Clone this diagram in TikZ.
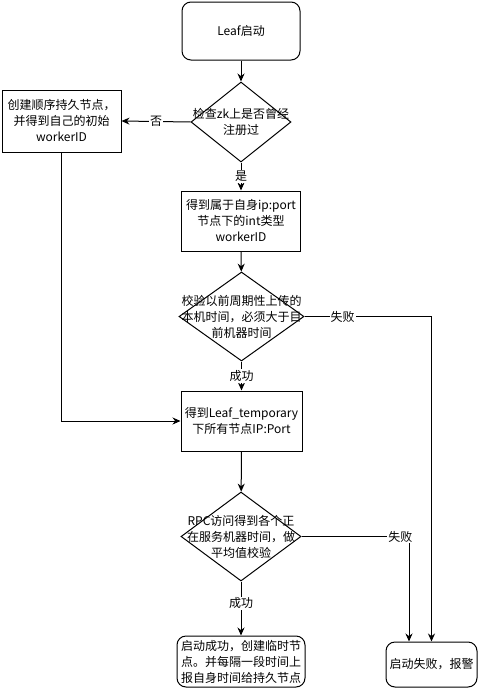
\documentclass[tikz,border=0pt]{standalone}
\usepackage{fontspec}
\setmainfont{Noto Sans CJK SC}
\usetikzlibrary{shapes.geometric,arrows.meta}
\newcommand\midx{241}

\begin{document}
\begin{tikzpicture}[x=1pt, y=-1pt, >={Stealth[length=8pt,width=7pt]},
	box/.style={draw, line width=1pt, minimum width=119pt, minimum height=60pt, align=center, inner sep=1pt, font=\fontsize{12}{16}\selectfont},
	rbox/.style={box, rounded corners=9pt},
	decision/.style={draw, diamond, line width=1pt, inner sep=0pt},
	dtext/.style={align=center, inner sep=0pt, font=\fontsize{12}{16}\selectfont},
	lbl/.style={fill=white, inner sep=1pt, font=\fontsize{12}{14}\selectfont},
	flow/.style={->, line width=1pt}]
	\useasboundingbox (0,0) rectangle (478,688);

		\node[rbox, minimum width=118pt, minimum height=58pt] (leaf) at (\midx,31) {Leaf启动};

		\node[decision, minimum width=100pt, minimum height=80pt,
			label={[dtext]center:检查zk上是否曾经\\注册过}] (chk) at (\midx,122) {};

		\node[box, minimum height=62pt] (seq) at (61.5,121) {创建顺序持久节点，\\并得到自己的初始\\workerID};

		\node[box] (own) at (\midx,221) {得到属于自身ip:port\\节点下的int类型\\workerID};

		\node[decision, minimum width=125pt, minimum height=89pt,
			label={[dtext]center:校验以前周期性上传的\\本机时间，必须大于目\\前机器时间}] (chkt) at (241.5,316.5) {};

		\node[box, minimum width=121pt] (tmp) at (241.5,421) {得到Leaf\_temporary\\下所有节点IP:Port};

		\node[decision, minimum width=120pt, minimum height=89pt,
			label={[dtext]center:RPC访问得到各个正\\在服务机器时间，做\\平均值校验}] (rpc) at (\midx,536.5) {};

		\node[rbox, minimum width=128pt, minimum height=51pt] (ok) at (\midx,661.5) {启动成功，创建临时节\\点。并每隔一段时间上\\报自身时间给持久节点};

		\node[rbox, minimum width=91pt, minimum height=45pt] (fail) at (431.5,664.5) {启动失败，报警};

		\draw[flow] (leaf) -- (chk);
		\draw[flow] (chk.west) -- node[lbl] {否} (seq.east);
		\draw[flow] (chk.south) -- node[lbl] {是} (own.north);
		\draw[flow] (own) -- (chkt);
		\draw[flow] (chkt.south) -- node[lbl] {成功} (tmp.north);
		\draw[flow] (seq.south) |- (tmp.west);
		\draw[flow] (chkt.east) -| node[lbl, pos=0.15] {失败} (fail.north);  % to fail
		\draw[flow] (tmp) -- (rpc);
		\draw[flow] (rpc.south) -- node[lbl, pos=0.4] {成功} (ok.north);
		\draw[flow] (rpc.east) -| node[lbl, pos=0.46] {失败} ([xshift=-22.5pt]fail.north);  % to fail
	\end{tikzpicture}
\end{document}
